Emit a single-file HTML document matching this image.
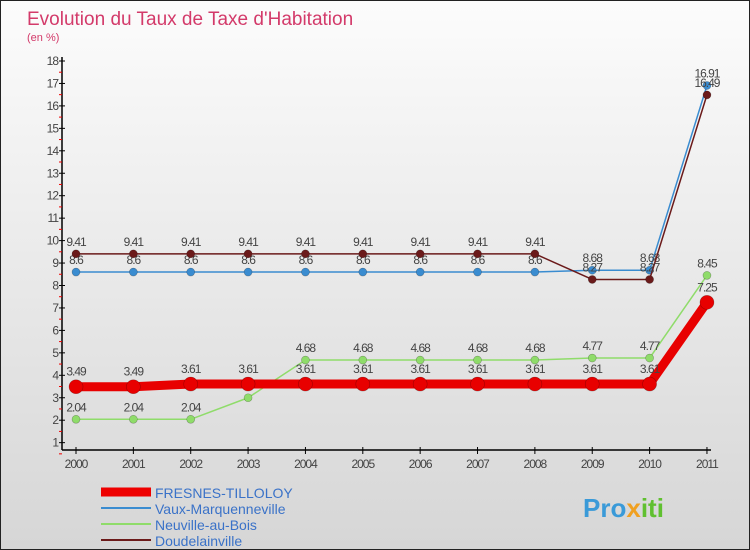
<!DOCTYPE html>
<html><head><meta charset="utf-8"><style>
body{margin:0}
#c{width:748px;height:548px;border:1px solid #222;background:linear-gradient(#fcfcfc,#d6d6d6);position:relative;font-family:"Liberation Sans",sans-serif;overflow:hidden}
</style></head><body>
<div id="c">
<svg width="748" height="548" id="s">
<text x="26" y="24" font-size="19" fill="#d33a6a">Evolution du Taux de Taxe d'Habitation</text>
<text x="26" y="40" font-size="11" fill="#d33a6a">(en %)</text>
<g id="ax"></g><g id="ser"></g>
<g>
<line x1="100" y1="491" x2="150" y2="491" stroke="#e00" stroke-width="9"/>
<text x="154" y="497" font-size="14" fill="#3a72c8">FRESNES-TILLOLOY</text>
<line x1="100" y1="507" x2="150" y2="507" stroke="#3a8cd0" stroke-width="2"/>
<text x="154" y="513" font-size="14" fill="#3a72c8">Vaux-Marquenneville</text>
<line x1="100" y1="523" x2="150" y2="523" stroke="#8fdc6a" stroke-width="2"/>
<text x="154" y="529" font-size="14" fill="#3a72c8">Neuville-au-Bois</text>
<line x1="100" y1="539" x2="150" y2="539" stroke="#6b1a1a" stroke-width="2"/>
<text x="154" y="545" font-size="14" fill="#3a72c8">Doudelainville</text>
</g>
<text x="582" y="516" font-size="26" font-weight="bold" fill="#3a9ad8">Pro<tspan fill="#f0a020">x</tspan><tspan fill="#60c030">iti</tspan></text>
</svg></div>
<script>
const years=[2000,2001,2002,2003,2004,2005,2006,2007,2008,2009,2010,2011];
const fresnes=[3.49,3.49,3.61,3.61,3.61,3.61,3.61,3.61,3.61,3.61,3.61,7.25];
const vaux=[8.6,8.6,8.6,8.6,8.6,8.6,8.6,8.6,8.6,8.68,8.68,16.91];
const neuville=[2.04,2.04,2.04,3.0,4.68,4.68,4.68,4.68,4.68,4.77,4.77,8.45];
const doud=[9.41,9.41,9.41,9.41,9.41,9.41,9.41,9.41,9.41,8.27,8.27,16.49];
const fresnesLbl=["3.49","3.49","3.61","3.61","3.61","3.61","3.61","3.61","3.61","3.61","3.61","7.25"];
const vauxLbl=["8.6","8.6","8.6","8.6","8.6","8.6","8.6","8.6","8.6","8.68","8.68","16.91"];
const neuvilleLbl=["2.04","2.04","2.04","","4.68","4.68","4.68","4.68","4.68","4.77","4.77","8.45"];
const doudLbl=["9.41","9.41","9.41","9.41","9.41","9.41","9.41","9.41","9.41","8.27","8.27","16.49"];
const yTicks=[1,2,3,4,5,6,7,8,9,10,11,12,13,14,15,16,17,18];
const NS="http://www.w3.org/2000/svg";
const X=i=>75+i*57.36, Y=v=>60+(18-v)*22.45;
function mk(t,a,p){const e=document.createElementNS(NS,t);for(const k in a)e.setAttribute(k,a[k]);p.appendChild(e);return e;}
const ax=document.getElementById('ax'),ser=document.getElementById('ser');
let l=mk('line',{x1:61,y1:56,x2:61,y2:449,stroke:'#000','stroke-width':1.5},ax);


l=mk('line',{x1:61,y1:449,x2:710,y2:449,stroke:'#000','stroke-width':1.5},ax);


yTicks.forEach(v=>{
 mk('line',{x1:58,x2:64,y1:Y(v),y2:Y(v),stroke:'#000'},ax);
 mk('line',{x1:58,x2:61,y1:Y(v)+11.2,y2:Y(v)+11.2,stroke:'#e00'},ax);
 const t=mk('text',{x:57,y:Y(v)+4,'font-size':12,'text-anchor':'end',fill:'#444','letter-spacing':'-1'},ax);
 t.textContent=v;
 
 
});
years.forEach((y,i)=>{
 mk('line',{x1:X(i),x2:X(i),y1:446,y2:453,stroke:'#000'},ax);
 const t=mk('text',{x:X(i),y:467,'font-size':12,'text-anchor':'middle',fill:'#444','letter-spacing':'-1'},ax);
 t.textContent=y;
 
 
});
function series(vals,lbls,color,w,r,name){
 const g=mk('g',{},ser);
 
 
 const p=mk('polyline',{points:vals.map((v,i)=>X(i)+','+Y(v)).join(' '),fill:'none',stroke:color,'stroke-width':w,'stroke-linejoin':'round'},g);
 
 
 vals.forEach((v,i)=>{
  const c=mk('circle',{cx:X(i),cy:Y(v),r:r,fill:color,stroke:'rgba(0,0,0,0.3)','stroke-width':0.6},g);
  
  
  if(lbls[i]){const t=mk('text',{x:X(i),y:Y(v)-8-(r>4?3:0),'font-size':12,'text-anchor':'middle',fill:'#444','letter-spacing':'-1'},g);
  t.textContent=lbls[i];
  
  }
 });
}
series(neuville,neuvilleLbl,'#8fdc6a',1.5,4,'neuville');
series(vaux,vauxLbl,'#3a8cd0',1.5,4,'vaux');
series(doud,doudLbl,'#6b1a1a',1.5,4,'doudelainville');
series(fresnes,fresnesLbl,'#e80000',9,7,'fresnes');
</script>
</body></html>
